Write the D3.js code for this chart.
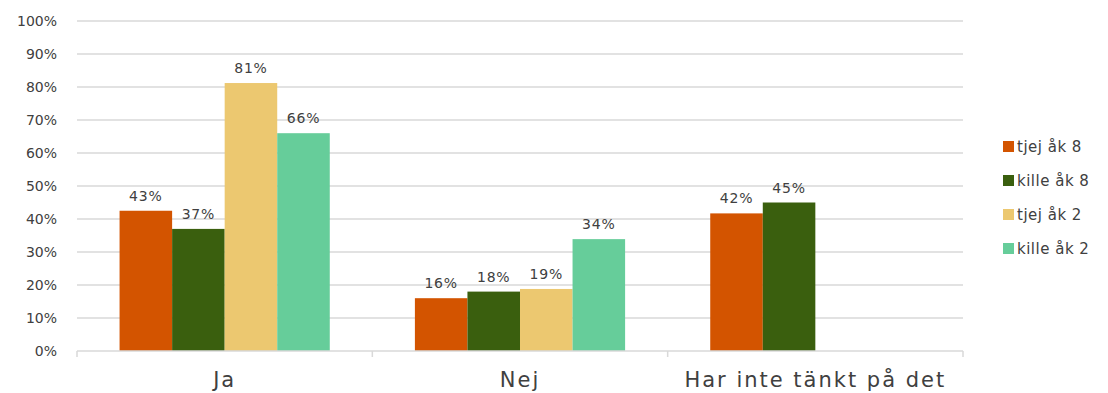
<!DOCTYPE html>
<html>
<head>
<meta charset="utf-8">
<script src="https://cdn.jsdelivr.net/npm/d3@7"></script>
<style>
  body { margin: 0; background: #fff; }
  svg text { font-family: "DejaVu Sans", sans-serif; fill: #404040; }
</style>
</head>
<body>
<svg></svg>
<script>
const WIDTH = 1108, HEIGHT = 393;

// data
const categories = ['Ja', 'Nej', 'Har inte tänkt på det'];
const seriesNames = ['tjej åk 8', 'kille åk 8', 'tjej åk 2', 'kille åk 2'];
const tjejAk8 = [0.425, 0.16, 0.417];
const killeAk8 = [0.37, 0.18, 0.45];
const tjejAk2 = [0.812, 0.188, null];
const killeAk2 = [0.66, 0.339, null];
const colors = ['#d35400', '#3a5f0e', '#ecc870', '#66cd9a'];
const yTicks = [0, 0.1, 0.2, 0.3, 0.4, 0.5, 0.6, 0.7, 0.8, 0.9, 1];

const seriesValues = [tjejAk8, killeAk8, tjejAk2, killeAk2];

const margin = {left: 77, right: 145, top: 21, bottom: 42};
const plotW = WIDTH - margin.left - margin.right;
const plotH = HEIGHT - margin.top - margin.bottom;

let svg = d3.select('svg')
    .attr('width', WIDTH)
    .attr('height', HEIGHT);

let x0 = d3.scaleBand()
    .domain(categories)
    .range([margin.left, margin.left + plotW])
    .paddingInner(0)
    .paddingOuter(0);
let x1 = d3.scaleBand()
    .domain(seriesNames)
    .range([0, x0.bandwidth()])
    .paddingOuter(0.81);
let y = d3.scaleLinear()
    .domain([0, 1])
    .range([margin.top + plotH, margin.top]);

// gridlines
svg.append('g')
    .selectAll('line')
    .data(yTicks.slice(1))
    .enter()
    .append('line')
        .attr('x1', margin.left)
        .attr('x2', margin.left + plotW)
        .attr('y1', d => y(d))
        .attr('y2', d => y(d))
        .attr('stroke', '#d9d9d9')
        .attr('stroke-width', 1.5);

// y tick labels
svg.append('g')
    .selectAll('text')
    .data(yTicks)
    .enter()
    .append('text')
        .attr('x', 57)
        .attr('y', d => y(d) + 5)
        .attr('text-anchor', 'end')
        .style('font-size', '14px')
        .text(d => d3.format('.0%')(d));

// bars
let groups = svg.append('g')
    .selectAll('g')
    .data(seriesNames)
    .enter()
    .append('g')
        .attr('fill', (d, i) => colors[i]);

groups.selectAll('rect')
    .data((s, si) => categories.map((c, ci) => ({cat: c, s: s, v: seriesValues[si][ci]})))
    .enter()
    .filter(d => d.v !== null)
    .append('rect')
        .attr('x', d => x0(d.cat) + x1(d.s))
        .attr('width', x1.bandwidth())
        .attr('y', d => y(d.v))
        .attr('height', d => y(0) - y(d.v));

// value labels
groups.selectAll('text')
    .data((s, si) => categories.map((c, ci) => ({cat: c, s: s, v: seriesValues[si][ci]})))
    .enter()
    .filter(d => d.v !== null)
    .append('text')
        .attr('x', d => x0(d.cat) + x1(d.s) + x1.bandwidth() / 2)
        .attr('y', d => y(d.v) - 10)
        .attr('text-anchor', 'middle')
        .style('font-size', '14px')
        .style('letter-spacing', '0.8px')
        .text(d => d3.format('.0%')(d.v));

// x axis
let xAxis = svg.append('g');
xAxis.append('line')
    .attr('x1', margin.left)
    .attr('x2', margin.left + plotW)
    .attr('y1', y(0))
    .attr('y2', y(0))
    .attr('stroke', '#d9d9d9')
    .attr('stroke-width', 1.5);
xAxis.selectAll('.tick')
    .data(categories.concat(['end']))
    .enter()
    .append('line')
        .attr('x1', (d, i) => margin.left + i * x0.bandwidth())
        .attr('x2', (d, i) => margin.left + i * x0.bandwidth())
        .attr('y1', y(0))
        .attr('y2', y(0) + 6)
        .attr('stroke', '#d9d9d9')
        .attr('stroke-width', 1.5);
xAxis.selectAll('text')
    .data(categories)
    .enter()
    .append('text')
        .attr('x', d => x0(d) + x0.bandwidth() / 2)
        .attr('y', 387)
        .attr('text-anchor', 'middle')
        .style('font-size', '21px')
        .style('letter-spacing', '2px')
        .text(d => d);

// legend
let legend = svg.append('g')
    .selectAll('g')
    .data(seriesNames)
    .enter()
    .append('g')
        .attr('transform', (d, i) => `translate(1003, ${146 + i * 34})`);
legend.append('rect')
    .attr('x', 0)
    .attr('y', -5)
    .attr('width', 11)
    .attr('height', 11)
    .attr('fill', (d, i) => colors[i]);
legend.append('text')
    .attr('x', 14)
    .attr('y', 6)
    .style('font-size', '15px')
    .style('letter-spacing', '0.5px')
    .text(d => d);
</script>
</body>
</html>
